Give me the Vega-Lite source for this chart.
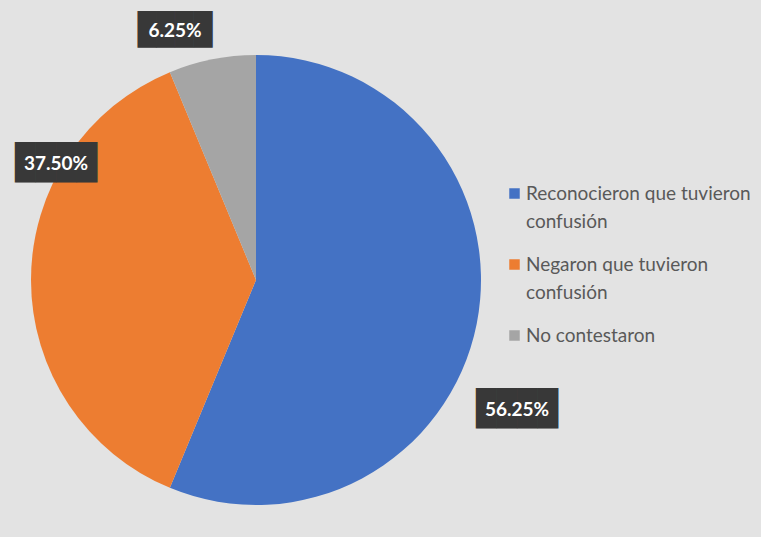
{
  "$schema": "https://vega.github.io/schema/vega-lite/v6.json",
  "width": 512,
  "height": 514,
  "autosize": {"type": "none"},
  "padding": {"left": 0, "top": 23, "right": 249, "bottom": 0},
  "background": "#e3e3e3",
  "config": {"view": {"stroke": null}, "style": {"guide-label": {"lineHeight": 28}}},
  "data": {"values": [
    {"categoria": "Reconocieron que tuvieron confusión", "porcentaje": 56.25, "orden": 1, "etiqueta": "56.25%"},
    {"categoria": "Negaron que tuvieron confusión", "porcentaje": 37.5, "orden": 2, "etiqueta": "37.50%"},
    {"categoria": "No contestaron", "porcentaje": 6.25, "orden": 3, "etiqueta": "6.25%"}
  ]},
  "layer": [
    {
      "mark": {"type": "arc", "outerRadius": 225},
      "encoding": {
        "theta": {"field": "porcentaje", "type": "quantitative", "stack": true},
        "order": {"field": "orden", "type": "quantitative"},
        "color": {
          "field": "categoria", "type": "nominal",
          "scale": {"domain": ["Reconocieron que tuvieron confusión", "Negaron que tuvieron confusión", "No contestaron"], "range": ["#4472C4", "#ED7D31", "#A5A5A5"]},
          "legend": {
            "title": null, "orient": "none", "legendX": 505, "legendY": 161,
            "symbolType": "square", "symbolSize": 110, "symbolStrokeWidth": 0,
            "labelFont": "Lato", "labelFontSize": 19, "labelColor": "#595959",
            "labelExpr": "datum.label == 'Reconocieron que tuvieron confusión' ? ['Reconocieron que tuvieron', 'confusión'] : datum.label == 'Negaron que tuvieron confusión' ? ['Negaron que tuvieron', 'confusión'] : datum.label",
            "labelLimit": 300, "rowPadding": 23, "labelOffset": 2
          }
        }
      }
    },
    {
      "transform": [{"filter": "datum.orden == 1"}],
      "mark": {"type": "text", "text": "████", "font": "DejaVu Sans Mono", "fontSize": 34, "color": "#383838", "align": "center", "baseline": "middle", "dx": 261, "dy": 130},
      "encoding": {}
    },
    {
      "transform": [{"filter": "datum.orden == 2"}],
      "mark": {"type": "text", "text": "████", "font": "DejaVu Sans Mono", "fontSize": 34, "color": "#383838", "align": "center", "baseline": "middle", "dx": -200, "dy": -116},
      "encoding": {}
    },
    {
      "transform": [{"filter": "datum.orden == 3"}],
      "mark": {"type": "text", "text": "████", "font": "DejaVu Sans Mono", "fontSize": 31, "color": "#383838", "align": "center", "baseline": "middle", "dx": -81, "dy": -249},
      "encoding": {}
    },
    {
      "transform": [{"filter": "datum.orden == 1"}],
      "mark": {"type": "text", "font": "Lato", "fontSize": 19, "fontWeight": "bold", "color": "white", "align": "center", "baseline": "middle", "dx": 261, "dy": 130},
      "encoding": {"text": {"field": "etiqueta"}}
    },
    {
      "transform": [{"filter": "datum.orden == 2"}],
      "mark": {"type": "text", "font": "Lato", "fontSize": 19, "fontWeight": "bold", "color": "white", "align": "center", "baseline": "middle", "dx": -200, "dy": -116},
      "encoding": {"text": {"field": "etiqueta"}}
    },
    {
      "transform": [{"filter": "datum.orden == 3"}],
      "mark": {"type": "text", "font": "Lato", "fontSize": 19, "fontWeight": "bold", "color": "white", "align": "center", "baseline": "middle", "dx": -81, "dy": -249},
      "encoding": {"text": {"field": "etiqueta"}}
    }
  ]
}
